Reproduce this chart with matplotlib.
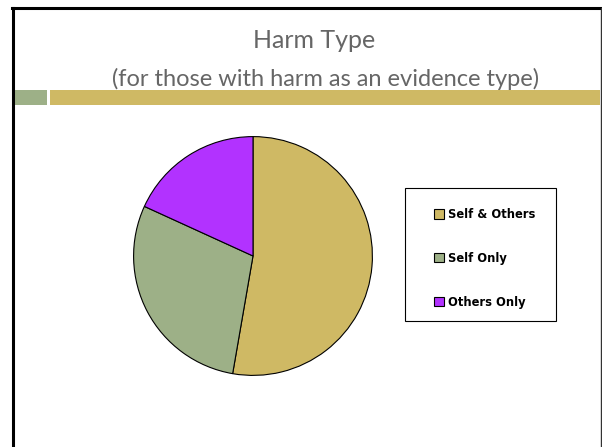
import matplotlib
matplotlib.use("Agg")
import matplotlib.pyplot as plt
from matplotlib.patches import Rectangle
from matplotlib.lines import Line2D

categories = ["Self & Others", "Self Only", "Others Only"]
values = [29, 16, 10]
colors = ["#CFB964", "#9DB087", "#B232FF"]
title = "Harm Type"
subtitle = "(for those with harm as an evidence type)"

W, H = 602, 447
fig = plt.figure(figsize=(W / 100, H / 100), dpi=100)
fig.patch.set_facecolor("white")

def fx(px):
    return px / W

def fy(py):
    return 1 - py / H

# slide border
fig.add_artist(Line2D([fx(13), fx(13)], [fy(8), fy(447)], color="black", lw=2.2))
fig.add_artist(Line2D([fx(12), fx(601)], [fy(8), fy(8)], color="black", lw=2.2))
fig.add_artist(Line2D([fx(600.5), fx(600.5)], [fy(8), fy(447)], color="#333333", lw=1.0))

# decorative band
fig.add_artist(Rectangle((fx(14), fy(105)), fx(47) - fx(14), fy(90) - fy(105),
                         facecolor="#9DB087", edgecolor="none"))
fig.add_artist(Rectangle((fx(50), fy(105)), fx(600) - fx(50), fy(90) - fy(105),
                         facecolor="#CFB964", edgecolor="none"))

# titles
fig.text(fx(314), fy(41), title, ha="center", va="center", fontsize=18,
         color="#666666", family="Lato")
fig.text(fx(326), fy(79), subtitle, ha="center", va="center", fontsize=17,
         color="#666666", family="Lato")

# pie
cx, cy, r = 253, 256, 120
ax = fig.add_axes([fx(cx - r), fy(cy + r), 2 * r / W, 2 * r / H])
wedges, _ = ax.pie(values, colors=colors, startangle=90, counterclock=False,
                   wedgeprops=dict(edgecolor="black", linewidth=0.8))
ax.set_xlim(-1.005, 1.005)
ax.set_ylim(-1.005, 1.005)
ax.set_aspect("equal")
ax.axis("off")

# legend box
fig.add_artist(Rectangle((fx(405), fy(321)), fx(556) - fx(405), fy(188) - fy(321),
                         facecolor="white", edgecolor="black", lw=0.8, zorder=1))
leg = fig.legend(wedges, categories, loc="upper left",
                 bbox_to_anchor=(fx(434), fy(208)), frameon=False,
                 prop=dict(weight="bold", size=8.3),
                 handlelength=0.85, handleheight=0.85, handletextpad=0.35,
                 labelspacing=2.68, borderpad=0, borderaxespad=0)
leg.set_zorder(2)
for h in leg.legend_handles:
    h.set_linewidth(0.8)

fig.savefig("out.png", dpi=100)
